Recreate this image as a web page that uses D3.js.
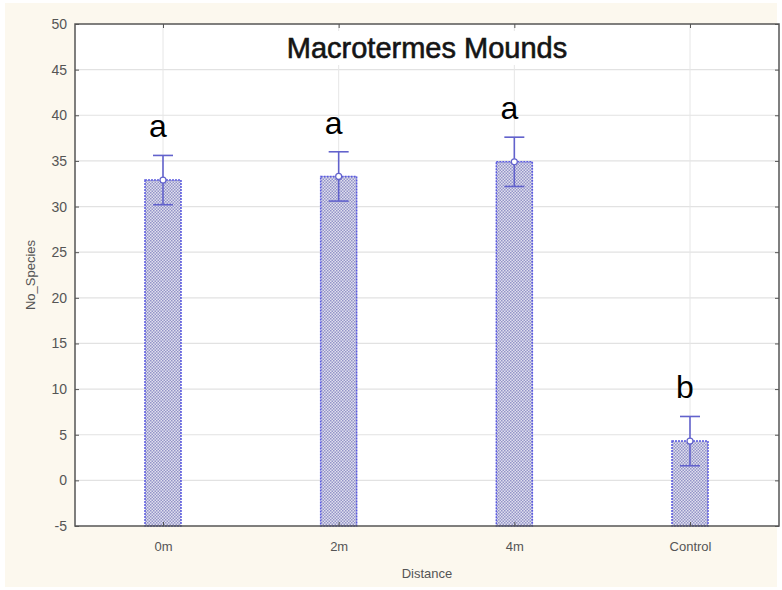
<!DOCTYPE html>
<html><head><meta charset="utf-8">
<script src="https://cdn.jsdelivr.net/npm/d3@7"></script>
<style>body{margin:0;background:#fff}svg{display:block}</style>
</head><body>
<svg id="c" width="782" height="590"></svg>
<script>
const categories = ["0m", "2m", "4m", "Control"];
const means = [32.9, 33.3, 34.9, 4.3];
const errors = [2.7, 2.7, 2.7, 2.7];
const letters = ["a", "a", "a", "b"];
const yTicks = [-5, 0, 5, 10, 15, 20, 25, 30, 35, 40, 45, 50];

const svg = d3.select("#c");
const m = {l: 75, r: 779, t: 24, b: 526};
svg.append("rect").attr("x", 5).attr("y", 3).attr("width", 772).attr("height", 584).attr("fill", "#fcf8ee");
svg.append("rect").attr("x", m.l).attr("y", m.t).attr("width", m.r - m.l).attr("height", m.b - m.t).attr("fill", "#fff");

const defs = svg.append("defs");
const pat = defs.append("pattern").attr("id", "hatch").attr("patternUnits", "userSpaceOnUse").attr("width", 3).attr("height", 3);
pat.append("rect").attr("width", 3).attr("height", 3).attr("fill", "#e0e0ee");
pat.append("rect").attr("width", 1.5).attr("height", 1.5).attr("fill", "#9494c8");
pat.append("rect").attr("x", 1.5).attr("y", 1.5).attr("width", 1.5).attr("height", 1.5).attr("fill", "#9494c8");

const x = d3.scalePoint().domain(categories).range([163, 690]);
const y = d3.scaleLinear().domain([-5, 50]).range([m.b, m.t]);

// grid
svg.append("g").selectAll("line").data(yTicks.slice(1, -1)).join("line")
  .attr("x1", m.l).attr("x2", m.r).attr("y1", d => y(d)).attr("y2", d => y(d))
  .attr("stroke", "#e2e2e2").attr("stroke-width", 1.2);
svg.append("g").selectAll("line").data(categories).join("line")
  .attr("x1", d => x(d)).attr("x2", d => x(d)).attr("y1", m.t).attr("y2", m.b)
  .attr("stroke", "#e6e6e6").attr("stroke-width", 1);

// title
svg.append("rect").attr("x", 268).attr("y", 31).attr("width", 320).attr("height", 34).attr("fill", "#fff");
svg.append("text").attr("x", 427).attr("y", 58).attr("text-anchor", "middle")
  .attr("font-family", "Liberation Sans, Arial, sans-serif").attr("font-size", 29).attr("fill", "#151515")
  .attr("stroke", "#151515").attr("stroke-width", 0.6).text("Macrotermes Mounds");

// bars
const bw = 36;
svg.append("g").selectAll("rect").data(categories).join("rect")
  .attr("x", d => x(d) - bw / 2).attr("width", bw)
  .attr("y", (d, i) => y(means[i])).attr("height", (d, i) => y(-5) - y(means[i]))
  .attr("fill", "url(#hatch)").attr("stroke", "#5a5ae0").attr("stroke-width", 1.5).attr("stroke-dasharray", "2,1");

// error bars
const eg = svg.append("g").attr("stroke", "#6262cc").attr("stroke-width", 1.6);
categories.forEach((c, i) => {
  const cx = x(c);
  eg.append("line").attr("x1", cx).attr("x2", cx).attr("y1", y(means[i] + errors[i])).attr("y2", y(means[i] - errors[i]));
  eg.append("line").attr("x1", cx - 10).attr("x2", cx + 10).attr("y1", y(means[i] + errors[i])).attr("y2", y(means[i] + errors[i]));
  eg.append("line").attr("x1", cx - 10).attr("x2", cx + 10).attr("y1", y(means[i] - errors[i])).attr("y2", y(means[i] - errors[i]));
  eg.append("circle").attr("cx", cx).attr("cy", y(means[i])).attr("r", 3).attr("fill", "#fff").attr("stroke-width", 1.2);
});

// letters
svg.append("g").selectAll("text").data(categories).join("text")
  .attr("x", d => x(d) - 5).attr("y", (d, i) => y(means[i] + errors[i]) - 18)
  .attr("text-anchor", "middle").attr("font-family", "Liberation Sans, Arial, sans-serif")
  .attr("font-size", 32).attr("fill", "#000").text((d, i) => letters[i]);

// frame
svg.append("rect").attr("x", m.l).attr("y", m.t).attr("width", m.r - m.l).attr("height", m.b - m.t)
  .attr("fill", "none").attr("stroke", "#555").attr("stroke-width", 1.5);

// axes
const yAxis = d3.axisLeft(y).tickValues(yTicks).tickSize(-4).tickPadding(8).tickFormat(d => String(d));
const gy = svg.append("g").attr("transform", `translate(${m.l},0)`).call(yAxis);
gy.select(".domain").remove();
gy.selectAll("line").attr("stroke", "#555");
gy.selectAll("text").attr("font-family", "Liberation Sans, Arial, sans-serif").attr("font-size", 14).attr("fill", "#555");

const gyr = svg.append("g").attr("transform", `translate(${m.r},0)`).call(d3.axisRight(y).tickValues(yTicks).tickSize(-4).tickFormat(""));
gyr.select(".domain").remove();
gyr.selectAll("line").attr("stroke", "#555");

const xAxis = d3.axisBottom(x).tickSize(-4).tickPadding(16);
const gx = svg.append("g").attr("transform", `translate(0,${m.b})`).call(xAxis);
gx.select(".domain").remove();
gx.selectAll("line").attr("stroke", "#555");
gx.selectAll("text").attr("font-family", "Liberation Sans, Arial, sans-serif").attr("font-size", 13).attr("fill", "#555");

const gxt = svg.append("g").attr("transform", `translate(0,${m.t})`).call(d3.axisTop(x).tickSize(-4).tickFormat(""));
gxt.select(".domain").remove();
gxt.selectAll("line").attr("stroke", "#555");

svg.append("text").attr("x", 427).attr("y", 578).attr("text-anchor", "middle")
  .attr("font-family", "Liberation Sans, Arial, sans-serif").attr("font-size", 13).attr("fill", "#555").text("Distance");
svg.append("text").attr("transform", "translate(35,275) rotate(-90)").attr("text-anchor", "middle")
  .attr("font-family", "Liberation Sans, Arial, sans-serif").attr("font-size", 13).attr("fill", "#555").text("No_Species");
</script>
</body></html>
